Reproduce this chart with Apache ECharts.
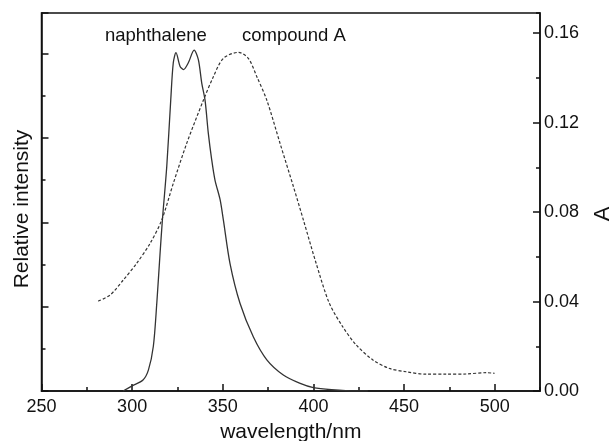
<!DOCTYPE html>
<html>
<head>
<meta charset="utf-8">
<script src="https://cdn.jsdelivr.net/npm/echarts@6/dist/echarts.min.js"></script>
<style>
  html, body { margin: 0; padding: 0; background: #fff; }
  #chart { width: 612px; height: 441px; }
</style>
</head>
<body>
<div id="chart"></div>
<script>
// naphthalene emission (left axis, relative intensity)
var naphNm  = [295, 300, 306, 309, 311.7, 313.6, 315.4, 316.7, 319.1, 321.3, 322.7, 324.2, 326.4, 328.3, 331, 334.2, 336.5, 338.4, 340.2, 342, 343.9, 345.7, 348.5, 350.3, 354, 359.5, 366.9, 374.3, 383.4, 392.7, 400, 410, 423.6, 430];
var naphVal = [0, 0.06, 0.13, 0.25, 0.53, 1.04, 1.63, 2.03, 2.66, 3.45, 3.89, 4.01, 3.85, 3.81, 3.89, 4.04, 3.93, 3.65, 3.45, 3.06, 2.74, 2.5, 2.27, 2.03, 1.51, 1.04, 0.64, 0.37, 0.19, 0.09, 0.04, 0.015, 0, 0];

// compound A absorption (right axis, A)
var compNm  = [281.3, 287.8, 295.1, 302.5, 309.9, 316.3, 322.7, 330.1, 339.3, 344.8, 350.3, 358.6, 364.1, 368.8, 374.3, 381.6, 389, 394.5, 401.5, 408.8, 416.2, 423.6, 432.8, 441.9, 451.2, 462.2, 473.2, 484.3, 495.3, 499.9];
var compVal = [0.0402, 0.0429, 0.0496, 0.0571, 0.066, 0.0764, 0.0928, 0.1107, 0.130, 0.1405, 0.1487, 0.1514, 0.1487, 0.1405, 0.130, 0.1107, 0.0913, 0.0764, 0.0571, 0.0392, 0.0287, 0.0206, 0.0139, 0.0101, 0.0086, 0.0075, 0.0075, 0.0076, 0.0082, 0.0079];

var xTicks = [250, 300, 350, 400, 450, 500];
var aTicks = [0.00, 0.04, 0.08, 0.12, 0.16];

function pairs(xs, ys) {
  var out = [];
  for (var i = 0; i < xs.length; i++) out.push([xs[i], ys[i]]);
  return out;
}

var FONT = 'Liberation Sans';
var INK = '#111';

var chart = echarts.init(document.getElementById('chart'));

var option = {
  animation: false,
  backgroundColor: '#fff',
  grid: {
    left: 41.5, right: 72, top: 13, bottom: 50,
    containLabel: false, outerBoundsMode: 'none',
    show: true, borderColor: INK, borderWidth: 1.5, backgroundColor: 'transparent'
  },
  textStyle: { fontFamily: FONT },
  xAxis: [
    {
      type: 'value', min: 250, max: 525, interval: 50,
      name: 'wavelength/nm', nameLocation: 'middle', nameGap: 31,
      nameTextStyle: { fontSize: 21, color: INK, fontFamily: FONT },
      axisLine: { lineStyle: { color: INK, width: 1.5 } },
      axisTick: { inside: true, length: 7, lineStyle: { color: INK, width: 1.5 } },
      axisLabel: {
        margin: 7, fontSize: 18, color: INK, fontFamily: FONT, showMaxLabel: false,
        formatter: function (v) { return xTicks.indexOf(v) >= 0 ? String(v) : ''; }
      },
      splitLine: { show: false }
    },
    {
      // minor ticks every 25 nm
      type: 'value', min: 250, max: 525, interval: 25, position: 'bottom',
      axisLine: { show: false },
      axisTick: { inside: true, length: 4, lineStyle: { color: INK, width: 1.5 } },
      axisLabel: { show: false },
      splitLine: { show: false }
    }
  ],
  yAxis: [
    {
      type: 'value', min: 0, max: 4.48, interval: 1, position: 'left',
      name: 'Relative intensity', nameLocation: 'middle', nameGap: 9, nameRotate: 90,
      nameTextStyle: { fontSize: 21, color: INK, fontFamily: FONT, padding: [0, 14, 0, 0] },
      axisLine: { show: true, lineStyle: { color: INK, width: 1.5 } },
      axisTick: { inside: true, length: 7, lineStyle: { color: INK, width: 1.5 } },
      axisLabel: { show: false },
      splitLine: { show: false }
    },
    {
      type: 'value', min: 0, max: 0.169, interval: 0.04, position: 'right',
      name: 'A', nameLocation: 'middle', nameGap: 52, nameRotate: 90,
      nameTextStyle: { fontSize: 22, color: INK, fontFamily: FONT, padding: [0, 24, 0, 0] },
      axisLine: { show: true, lineStyle: { color: INK, width: 1.5 } },
      axisTick: { inside: true, length: 7, lineStyle: { color: INK, width: 1.5 } },
      axisLabel: {
        margin: 4, fontSize: 18, color: INK, fontFamily: FONT, showMaxLabel: false,
        formatter: function (v) {
          for (var i = 0; i < aTicks.length; i++) if (Math.abs(aTicks[i] - v) < 1e-6) return aTicks[i].toFixed(2);
          return '';
        }
      },
      splitLine: { show: false }
    },
    {
      // minor ticks on left axis
      type: 'value', min: 0, max: 4.48, interval: 0.5, position: 'left',
      axisLine: { show: false },
      axisTick: { inside: true, length: 4, lineStyle: { color: INK, width: 1.5 } },
      axisLabel: { show: false },
      splitLine: { show: false }
    },
    {
      // minor ticks on right axis
      type: 'value', min: 0, max: 0.169, interval: 0.02, position: 'right',
      axisLine: { show: false },
      axisTick: { inside: true, length: 4, lineStyle: { color: INK, width: 1.5 } },
      axisLabel: { show: false },
      splitLine: { show: false }
    }
  ],
  series: [
    {
      name: 'naphthalene', type: 'line', xAxisIndex: 0, yAxisIndex: 0,
      data: pairs(naphNm, naphVal), smooth: 0.3, showSymbol: false,
      lineStyle: { color: '#333', width: 1.3 }
    },
    {
      name: 'compound A', type: 'line', xAxisIndex: 0, yAxisIndex: 1,
      data: pairs(compNm, compVal), smooth: 0.3, showSymbol: false,
      lineStyle: { color: '#333', width: 1.2, type: [3, 2] }
    }
  ],
  graphic: [
    { type: 'text', left: 105, top: 26, style: { text: 'naphthalene', font: '18.5px ' + FONT, fill: INK } },
    { type: 'text', left: 242, top: 26, style: { text: 'compound A', font: '18.5px ' + FONT, fill: INK } }
  ]
};

chart.setOption(option);
</script>
</body>
</html>
